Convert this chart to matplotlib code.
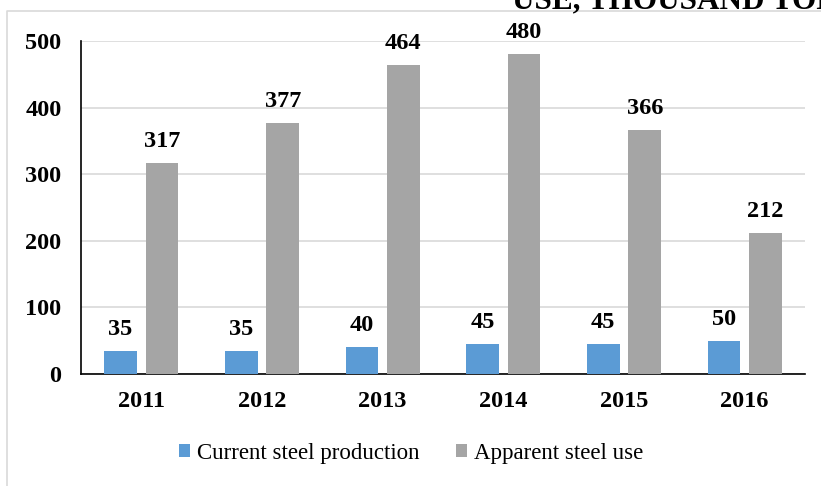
import numpy as np
import matplotlib
matplotlib.use("Agg")
import matplotlib.pyplot as plt
from matplotlib.lines import Line2D

# data
years = ["2011", "2012", "2013", "2014", "2015", "2016"]
production = [35, 35, 40, 45, 45, 50]
apparent_use = [317, 377, 464, 480, 366, 212]
series_names = ["Current steel production", "Apparent steel use"]
yticks = [0, 100, 200, 300, 400, 500]

W, H = 821, 486
plt.rcParams['font.family'] = ['Liberation Serif', 'DejaVu Serif']

fig = plt.figure(figsize=(W / 100, H / 100), dpi=100)
ax = fig.add_axes([81 / W, 112 / H, (805 - 81) / W, (374 - 41) / H])

x = np.arange(len(years))
bw = 0.272
off = 0.172
b1 = ax.bar(x - off, production, bw, color='#5B9BD5', label=series_names[0], zorder=3)
b2 = ax.bar(x + off, apparent_use, bw, color='#A5A5A5', label=series_names[1], zorder=3)

for bars, vals in ((b1, production), (b2, apparent_use)):
    for rect, v in zip(bars, vals):
        ax.annotate(str(v), (rect.get_x() + rect.get_width() / 2, v),
                    xytext=(0, 11.5), textcoords='offset points',
                    ha='center', va='baseline', fontsize=17.5, fontweight='bold')

ax.set_xlim(-0.5, len(years) - 0.5)
ax.set_ylim(0, 500)
ax.set_yticks(yticks)
ax.set_xticks(x)
ax.set_xticklabels(years)
ax.tick_params(axis='both', length=0, labelsize=17.5)
ax.tick_params(axis='y', pad=14)
ax.tick_params(axis='x', pad=12)
for lab in ax.get_xticklabels() + ax.get_yticklabels():
    lab.set_fontweight('bold')

ax.yaxis.grid(True, color='#d9d9d9', linewidth=1.2, zorder=0)
ax.set_axisbelow(True)
for s in ('top', 'right'):
    ax.spines[s].set_visible(False)
ax.spines['left'].set_color('black')
ax.spines['bottom'].set_color('black')
ax.spines['left'].set_linewidth(1.2)
ax.spines['bottom'].set_linewidth(1.2)

leg = fig.legend(loc='center', bbox_to_anchor=(411 / W, 1 - 453 / H), ncol=2,
                 frameon=False, fontsize=16.5, handlelength=0.48, handleheight=0.48,
                 handletextpad=0.3, columnspacing=1.6)

# partially visible title cut by the top edge
fig.text(512 / W, 1 - 8 / H, "USE, THOUSAND TONS", fontsize=22.5, fontweight='bold',
         ha='left', va='baseline')

# chart frame (left and top edges visible)
fig.add_artist(Line2D([7 / W, 7 / W, 1], [0, 1 - 11 / H, 1 - 11 / H],
                      transform=fig.transFigure, color='#d9d9d9', linewidth=1.2))

fig.savefig("out.png", dpi=100)
